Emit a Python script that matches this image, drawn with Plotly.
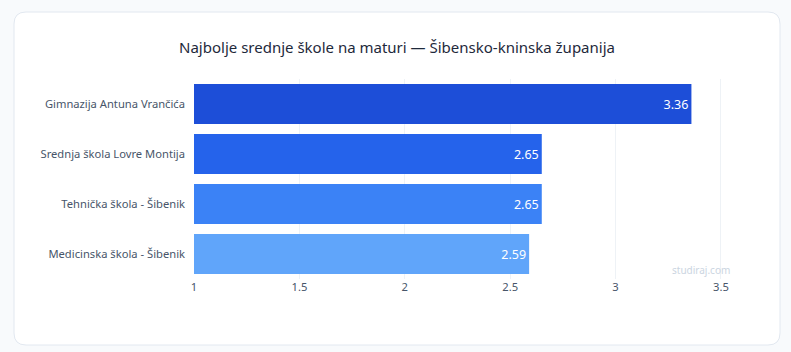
import plotly.graph_objects as go

schools = ["Gimnazija Antuna Vrančića", "Srednja škola Lovre Montija",
           "Tehnička škola - Šibenik", "Medicinska škola - Šibenik"]
scores = [3.36, 2.65, 2.65, 2.59]
bar_colors = ["#1d4ed8", "#2563eb", "#3b82f6", "#60a5fa"]
x_ticks = [1, 1.5, 2, 2.5, 3, 3.5]

W, H = 791, 352
ML, MR, MT, MB = 194, 49, 79, 73
PW, PH = W - ML - MR, H - MT - MB

def px(x):
    return (x - ML) / PW

def py(y):
    return (H - MB - y) / PH

# rounded card
x0, x1, y0, y1, r = 14, 780, 12, 345, 12
pts = [
    f"M {px(x0 + r)},{py(y0)}",
    f"L {px(x1 - r)},{py(y0)}",
    f"Q {px(x1)},{py(y0)} {px(x1)},{py(y0 + r)}",
    f"L {px(x1)},{py(y1 - r)}",
    f"Q {px(x1)},{py(y1)} {px(x1 - r)},{py(y1)}",
    f"L {px(x0 + r)},{py(y1)}",
    f"Q {px(x0)},{py(y1)} {px(x0)},{py(y1 - r)}",
    f"L {px(x0)},{py(y0 + r)}",
    f"Q {px(x0)},{py(y0)} {px(x0 + r)},{py(y0)}",
    "Z",
]
card_path = " ".join(pts)

fig = go.Figure()
fig.add_trace(go.Bar(
    y=schools, x=[s - 1 for s in scores], base=1, orientation="h",
    marker=dict(color=bar_colors, line=dict(width=0)),
    text=[f"{s:.2f}" for s in scores], textposition="inside",
    insidetextanchor="end",
    textfont=dict(color="white", size=12.5, family="Noto Sans"),
    width=0.8, hoverinfo="skip",
))

fig.update_layout(
    width=W, height=H,
    margin=dict(l=ML, r=MR, t=MT, b=MB),
    paper_bgcolor="#f8fafc", plot_bgcolor="white",
    font=dict(family="Noto Sans", color="#475569", size=11.2),
    title=dict(text="Najbolje srednje škole na maturi — Šibensko-kninska županija",
               x=(x0 + x1) / 2 / W, xref="container", xanchor="center",
               y=1 - 48 / H, yref="container", yanchor="middle",
               font=dict(size=15, color="#1e293b", family="Noto Sans")),
    showlegend=False,
    xaxis=dict(range=[1, 3.6], tickvals=x_ticks, ticktext=[f"{t:g}" for t in x_ticks],
               showgrid=True, gridcolor="#eef2f6", zeroline=False, showline=False,
               ticks="", tickfont=dict(size=11.2, color="#475569")),
    yaxis=dict(autorange="reversed", showgrid=False, ticks="", ticklabelstandoff=8,
               tickfont=dict(size=11.2, color="#475569")),
    shapes=[dict(type="path", path=card_path, xref="paper", yref="paper",
                 fillcolor="white", line=dict(color="#e2e8f0", width=1), layer="below")],
    annotations=[dict(text="studiraj.com", x=px(732), y=py(270), xref="paper", yref="paper",
                      xanchor="right", yanchor="middle", showarrow=False,
                      font=dict(size=10, color="#cbd5e1"))],
)

fig.write_html("out.html")
